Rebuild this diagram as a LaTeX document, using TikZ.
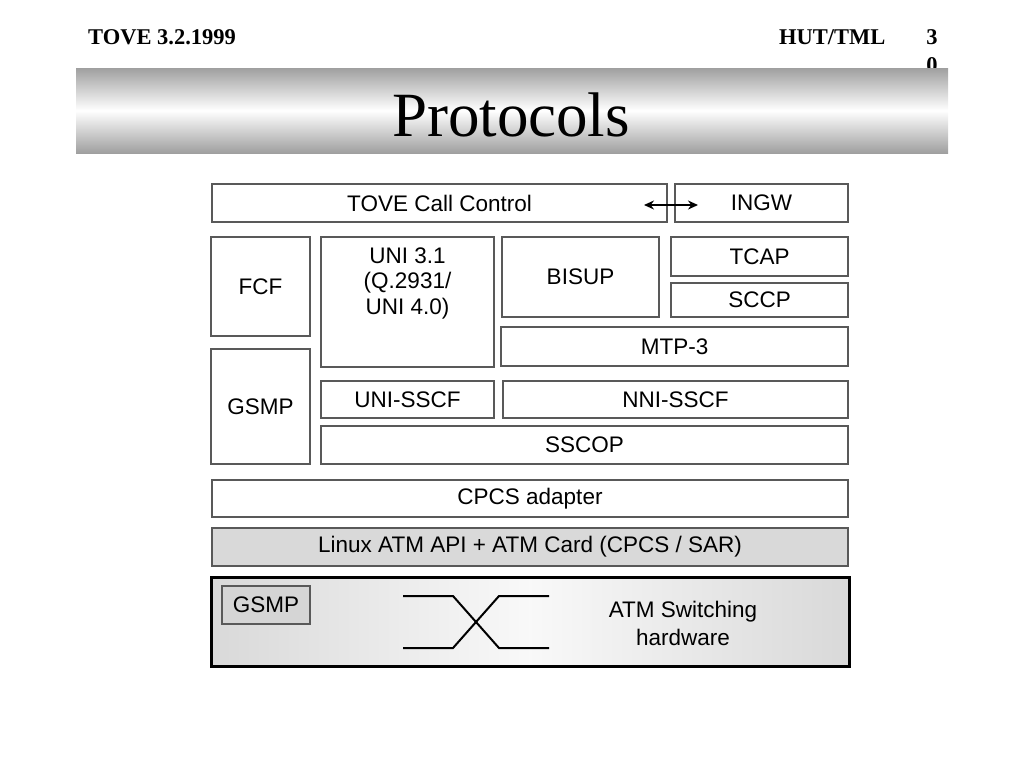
\documentclass[tikz,border=0pt]{standalone}
\usepackage{fontspec}
\setmainfont{Liberation Sans}
\newfontfamily\timesfont{Liberation Serif}
\usetikzlibrary{arrows.meta}

\tikzset{
	layer/.style={draw=black!65, line width=1.2pt, inner sep=0pt, align=center,
		font=\fontsize{22.5}{25.5}\selectfont},
	headtext/.style={inner sep=0pt, font=\timesfont\bfseries\fontsize{22.5}{24}\selectfont},
}

\begin{document}
\begin{tikzpicture}[x=1pt,y=-1pt]

	\useasboundingbox (0,0) rectangle (1024,768);

	% Header
	\node[headtext, anchor=west] (date) at (88,37) {TOVE 3.2.1999};
	\node[headtext, anchor=west] (lab) at (779,37) {HUT/TML};
	\node[headtext] (pgtop) at (932,37) {3};
	\node[headtext] (pgbot) at (932,65) {0};

	% Title
	\shade[top color=gray!75, bottom color=gray!75, middle color=white] (76,68) rectangle (948,153);
	\node[font=\timesfont\fontsize{63}{66}\selectfont] (title) at (511,115) {Protocols};

	% Upper layers
	\node[layer, minimum width=455, minimum height=38] (tcc) at (439.5,203) {TOVE Call Control};
	\node[layer, minimum width=173, minimum height=38] (ingw) at (761.5,203) {INGW};

	\node[layer, minimum width=99, minimum height=99] (fcf) at (260.5,286.5) {FCF};
	\node[layer, minimum width=99, minimum height=115] (gsmp) at (260.5,406.5) {GSMP};
	\node[layer, minimum width=173, minimum height=130] (uni) at (407.5,302) {};
	\node[layer, draw=none, anchor=north] (unitext) at (407.5,247) {UNI 3.1\\(Q.2931/\\UNI 4.0)};
	\node[layer, minimum width=157, minimum height=80] (bisup) at (580.5,277) {BISUP};
	\node[layer, minimum width=177, minimum height=39] (tcap) at (759.5,256.5) {TCAP};
	\node[layer, minimum width=177, minimum height=34] (sccp) at (759.5,300) {SCCP};
	\node[layer, minimum width=347, minimum height=39] (mtp) at (674.5,346.5) {MTP-3};

	% SAAL
	\node[layer, minimum width=173, minimum height=37] (unisscf) at (407.5,399.5) {UNI-SSCF};
	\node[layer, minimum width=345, minimum height=37] (nnisscf) at (675.5,399.5) {NNI-SSCF};
	\node[layer, minimum width=527, minimum height=38] (sscop) at (584.5,445) {SSCOP};

	% Lower layers
	\node[layer, minimum width=636, minimum height=37] (cpcs) at (530,498.5) {CPCS adapter};
	\node[layer, fill=gray!30, minimum width=636, minimum height=38] (linux) at (530,547) {Linux ATM API + ATM Card (CPCS / SAR)};

	% Hardware
	\node[layer, draw=black, line width=3pt, left color=gray!30, right color=gray!30, middle color=gray!5,
		minimum width=638, minimum height=89] (hw) at (530,621.5) {};
	\node[layer, fill=gray!33, minimum width=88, minimum height=38] (gsmpsw) at (266,605) {GSMP};
	\node[layer, draw=none] (hwtext) at (683,623) {ATM Switching\\[2.5pt]hardware};
	\draw[line width=2pt] (403,596) -- (453,596) -- (499,648) -- (549,648);
	\draw[line width=2pt] (403,648) -- (453,648) -- (499,596) -- (549,596);

	% Arrow
	\coordinate (arrL) at (644,205);
	\coordinate (arrR) at (698,205);
	\draw[line width=1.6pt, {Stealth[length=10pt,width=9pt]}-{Stealth[length=10pt,width=9pt]}] (arrL) -- (arrR);

\end{tikzpicture}
\end{document}
